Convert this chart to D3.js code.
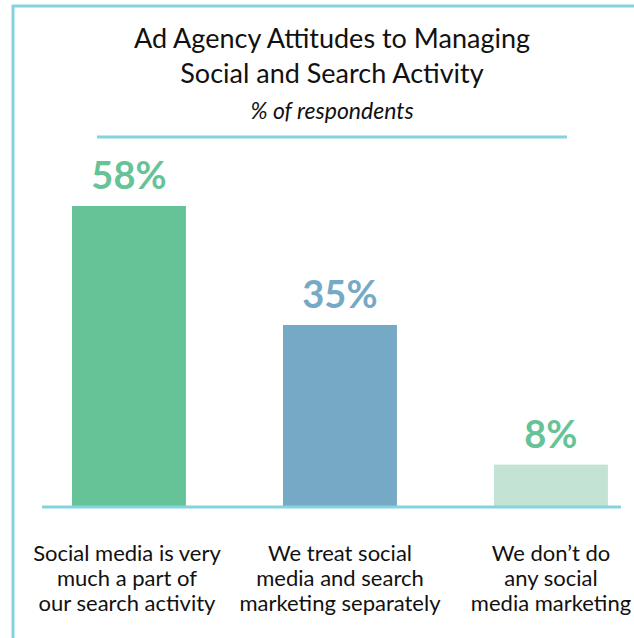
<!DOCTYPE html>
<html><head><meta charset="utf-8">
<script src="https://cdn.jsdelivr.net/npm/d3@7"></script>
<style>body{margin:0;background:#fff}svg{display:block}</style>
</head><body>
<script>
const categories = [
  ["Social media is very", "much a part of", "our search activity"],
  ["We treat social", "media and search", "marketing separately"],
  ["We don\u2019t do", "any social", "media marketing"]
];
const values = [58, 35, 8];
const valueLabels = ["58%", "35%", "8%"];
const barColors = ["#66c397", "#76a9c6", "#c3e4d4"];
const labelColors = ["#66c397", "#76a9c6", "#66c397"];

const W = 634, H = 638;
const font = "Lato, 'Open Sans', sans-serif";
const svg = d3.select("body").append("svg").attr("width", W).attr("height", H);
const frame = "#86d3e0";

// frame
svg.append("line").attr("x1", 13).attr("x2", 13).attr("y1", 5).attr("y2", H).attr("stroke", frame).attr("stroke-width", 3);
svg.append("line").attr("x1", 12).attr("x2", W).attr("y1", 6).attr("y2", 6).attr("stroke", frame).attr("stroke-width", 3);

// title
svg.append("text").attr("x", 332).attr("y", 48).attr("text-anchor", "middle")
  .attr("font-family", font).attr("font-size", 27).attr("fill", "#111").text("Ad Agency Attitudes to Managing");
svg.append("text").attr("x", 332).attr("y", 83).attr("text-anchor", "middle")
  .attr("font-family", font).attr("font-size", 27).attr("fill", "#111").text("Social and Search Activity");
svg.append("text").attr("x", 332).attr("y", 119).attr("text-anchor", "middle")
  .attr("font-family", font).attr("font-style", "italic").attr("font-size", 23).attr("fill", "#111").text("% of respondents");
svg.append("line").attr("x1", 97).attr("x2", 567).attr("y1", 137).attr("y2", 137).attr("stroke", frame).attr("stroke-width", 3);

const baseY = 506;
const x = d3.scaleBand().domain(d3.range(values.length)).range([8.7, 671.2]).paddingInner(0.46).paddingOuter(0.3);
const y = d3.scaleLinear().domain([0, 58]).range([baseY, 206]);

svg.selectAll("rect.bar").data(values).join("rect").attr("class", "bar")
  .attr("x", (d, i) => x(i)).attr("width", x.bandwidth())
  .attr("y", d => y(d)).attr("height", d => baseY - y(d))
  .attr("fill", (d, i) => barColors[i]);

svg.append("line").attr("x1", 42).attr("x2", 621).attr("y1", baseY + 1).attr("y2", baseY + 1).attr("stroke", frame).attr("stroke-width", 3);

svg.selectAll("text.val").data(values).join("text").attr("class", "val")
  .attr("x", (d, i) => x(i) + x.bandwidth() / 2).attr("y", d => y(d) - 17)
  .attr("text-anchor", "middle").attr("font-family", font).attr("font-weight", "bold")
  .attr("font-size", 38).attr("fill", (d, i) => labelColors[i]).text((d, i) => valueLabels[i]);

const centers = [127, 340, 551];
categories.forEach((lines, i) => {
  const t = svg.append("text").attr("text-anchor", "middle").attr("font-family", font)
    .attr("font-size", 22).attr("fill", "#111");
  lines.forEach((l, j) => t.append("tspan").attr("x", centers[i]).attr("y", 561 + j * 25).text(l));
});
</script>
</body></html>
